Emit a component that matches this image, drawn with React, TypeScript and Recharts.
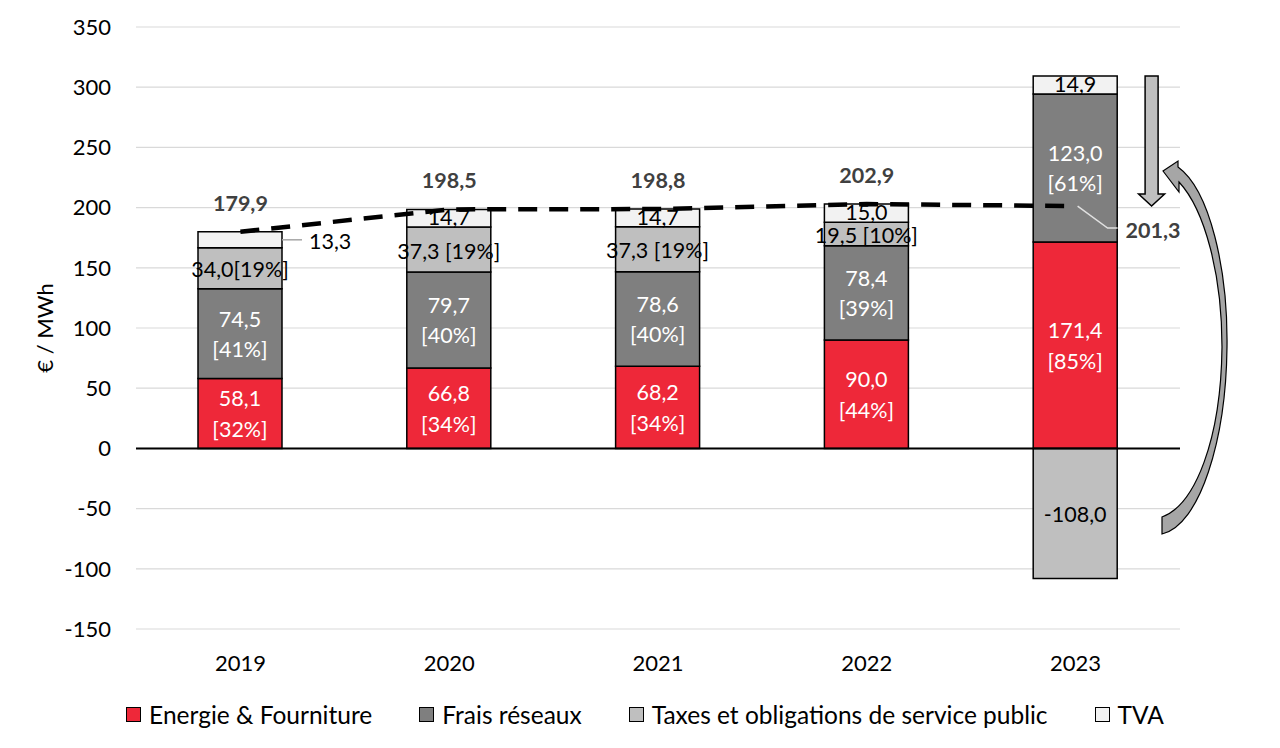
import React from 'react';
import {
  ComposedChart,
  Bar,
  Line,
  XAxis,
  YAxis,
  CartesianGrid,
  ReferenceLine,
  ReferenceDot,
  LabelList,
  Legend,
} from 'recharts';

const years = ['2019', '2020', '2021', '2022', '2023'];
const energy = [58.1, 66.8, 68.2, 90.0, 171.4];
const network = [74.5, 79.7, 78.6, 78.4, 123.0];
const taxes = [34.0, 37.3, 37.3, 19.5, -108.0];
const vat = [13.3, 14.7, 14.7, 15.0, 14.9];
const totals = [179.9, 198.5, 198.8, 202.9, 201.3];
const energyPct = [32, 34, 34, 44, 85];
const networkPct = [41, 40, 40, 39, 61];
const taxPct = [19, 19, 19, 10, null];
const taxSep = ['', ' ', ' ', ' ', ''];
const yTicks = [-150, -100, -50, 0, 50, 100, 150, 200, 250, 300, 350];
const seriesNames = ['Energie & Fourniture', 'Frais réseaux', 'Taxes et obligations de service public', 'TVA'];
const seriesColors = ['#EE2839', '#7F7F7F', '#BFBFBF', '#F2F2F2'];
const yAxisTitle = '€ / MWh';

const data = years.map((year, i) => ({
  year,
  energy: energy[i],
  network: network[i],
  taxes: taxes[i],
  vat: vat[i],
  total: totals[i],
}));

const FONT = 'Lato, "Open Sans", sans-serif';
const FS = 21.5;
const TICK_FS = 22;
const LEGEND_FS = 24.5;
const fmt = (v: number) => v.toFixed(1).replace('.', ',');

const box = (p: any) => {
  const vb = p.viewBox || p;
  const x = Number(vb.x ?? p.x);
  const y = Number(vb.y ?? p.y);
  const w = Number(vb.width ?? p.width);
  const h = Number(vb.height ?? p.height);
  return { x, y, w, h, cx: x + w / 2, cy: y + h / 2 };
};

const TwoLineLabel = (values: number[], pcts: number[]) => (p: any) => {
  const i = p.index;
  if (i == null || values[i] == null) return null;
  const { cx, cy } = box(p);
  return (
    <g>
      <text x={cx} y={cy - 15} textAnchor="middle" dominantBaseline="central" fill="#fff" fontSize={FS}>
        {fmt(values[i])}
      </text>
      <text x={cx} y={cy + 15.5} textAnchor="middle" dominantBaseline="central" fill="#fff" fontSize={FS}>
        [{pcts[i]}%]
      </text>
    </g>
  );
};

const TaxLabel = (p: any) => {
  const i = p.index;
  if (i == null) return null;
  const { cx, cy } = box(p);
  const pct = taxPct[i];
  const txt = fmt(taxes[i]) + (pct != null ? `${taxSep[i]}[${pct}%]` : '');
  return (
    <text x={cx} y={cy + 1} textAnchor="middle" dominantBaseline="central" fill="#000" fontSize={FS}>
      {txt}
    </text>
  );
};

const VatLabel = (p: any) => {
  const i = p.index;
  if (i == null) return null;
  const { x, w, cx, cy } = box(p);
  if (i === 0) {
    return (
      <g>
        <line x1={x + w} y1={cy} x2={x + w + 20} y2={cy} stroke="#A6A6A6" strokeWidth={1.5} />
        <text x={x + w + 27} y={cy + 1} textAnchor="start" dominantBaseline="central" fill="#000" fontSize={FS}>
          {fmt(vat[i])}
        </text>
      </g>
    );
  }
  return (
    <text x={cx} y={cy - 1} textAnchor="middle" dominantBaseline="central" fill="#000" fontSize={FS}>
      {fmt(vat[i])}
    </text>
  );
};

const TotalLabel = (p: any) => {
  const i = p.index;
  if (i == null) return null;
  const x = Number(p.x ?? p.viewBox?.x);
  const y = Number(p.y ?? p.viewBox?.y);
  if (i === totals.length - 1) {
    return (
      <g>
        <polyline
          points={`${x + 2},${y} ${x + 32},${y + 22} ${x + 42},${y + 22}`}
          fill="none"
          stroke="#E0E0E0"
          strokeWidth={1.5}
        />
        <text x={x + 50} y={y + 24} textAnchor="start" dominantBaseline="central" fill="#404040" fontSize={FS} fontWeight="bold">
          {fmt(totals[i])}
        </text>
      </g>
    );
  }
  return (
    <text x={x} y={y - 29} textAnchor="middle" dominantBaseline="central" fill="#404040" fontSize={FS} fontWeight="bold">
      {fmt(totals[i])}
    </text>
  );
};

const DownArrow = (p: any) => {
  const x = Number(p.x1) + 76;
  const y1 = Number(p.y1);
  const y2 = Number(p.y2);
  const hb = y2 - 12;
  const d = `M${x - 6.5},${y1} L${x + 6.5},${y1} L${x + 6.5},${hb} L${x + 13},${hb} L${x},${y2} L${x - 13},${hb} L${x - 6.5},${hb} Z`;
  return <path d={d} fill="#BFBFBF" stroke="#000" strokeWidth={1.5} strokeLinejoin="miter" />;
};

const CurvedArrow = (p: any) => {
  const cx = Number(p.cx);
  const cy = Number(p.cy);
  const d =
    'M87.4,-277.4 L102.4,-287.4 L102.4,-281.4 ' +
    'C134.4,-258.4 152.4,-178.4 151.4,-101.4 ' +
    'C150.4,-8.4 124.4,76.6 86.4,85.6 ' +
    'L86.4,68.6 ' +
    'C119.4,56.6 145.4,-8.4 146.4,-101.4 ' +
    'C146.4,-173.4 129.4,-238.4 103.4,-266.4 ' +
    'L103.4,-256.4 Z';
  return (
    <g transform={`translate(${cx},${cy})`}>
      <path d={d} fill="#A6A6A6" stroke="#000" strokeWidth={1.2} strokeLinejoin="miter" />
    </g>
  );
};

const LegendContent = () => (
  <div
    style={{
      display: 'flex',
      justifyContent: 'center',
      alignItems: 'center',
      height: 40,
      gap: 47,
      fontSize: LEGEND_FS,
      fontFamily: FONT,
      color: '#000',
      whiteSpace: 'nowrap',
    }}
  >
    {seriesNames.map((n, i) => (
      <div key={n} style={{ display: 'flex', alignItems: 'center' }}>
        <span
          style={{
            display: 'inline-block',
            width: 15,
            height: 15,
            background: seriesColors[i],
            border: '1px solid #000',
            boxSizing: 'border-box',
            marginRight: 8,
          }}
        />
        <span>{n}</span>
      </div>
    ))}
  </div>
);

const YTitle = (p: any) => {
  const vb = p.viewBox || {};
  const cy = Number(vb.y) + Number(vb.height) / 2;
  return (
    <text
      transform={`translate(44, ${cy}) rotate(-90)`}
      textAnchor="middle"
      dominantBaseline="central"
      fill="#000"
      fontSize={TICK_FS}
    >
      {yAxisTitle}
    </text>
  );
};

export default function App() {
  const vatTop = energy[4] + network[4] + vat[4];
  return (
    <div style={{ position: 'absolute', left: 0, top: 0, width: 1280, height: 748, background: '#fff', fontFamily: FONT }}>
      <ComposedChart
        width={1280}
        height={748}
        data={data}
        stackOffset="sign"
        margin={{ top: 27, right: 100, left: 0, bottom: 14 }}
        style={{ fontFamily: FONT }}
      >
        <CartesianGrid vertical={false} stroke="#D9D9D9" strokeWidth={1.2} />
        <XAxis
          dataKey="year"
          axisLine={false}
          tickLine={false}
          tickSize={0}
          tickMargin={26}
          height={65}
          interval={0}
          tick={{ fontSize: TICK_FS, fill: '#000' }}
        />
        <YAxis
          domain={[-150, 350]}
          ticks={yTicks}
          type="number"
          allowDataOverflow
          axisLine={false}
          tickLine={false}
          tickSize={0}
          tickMargin={25}
          width={136}
          tick={{ fontSize: TICK_FS, fill: '#000' }}
          label={<YTitle />}
        />
        <Legend content={<LegendContent />} verticalAlign="bottom" wrapperStyle={{ left: 5, width: 1280 }} />
        <Bar dataKey="energy" stackId="a" barSize={84} fill={seriesColors[0]} stroke="#000" strokeWidth={1.5} isAnimationActive={false}>
          <LabelList dataKey="energy" content={TwoLineLabel(energy, energyPct)} />
        </Bar>
        <Bar dataKey="network" stackId="a" barSize={84} fill={seriesColors[1]} stroke="#000" strokeWidth={1.5} isAnimationActive={false}>
          <LabelList dataKey="network" content={TwoLineLabel(network, networkPct)} />
        </Bar>
        <Bar dataKey="taxes" stackId="a" barSize={84} fill={seriesColors[2]} stroke="#000" strokeWidth={1.5} isAnimationActive={false}>
          <LabelList dataKey="taxes" content={TaxLabel} />
        </Bar>
        <Bar dataKey="vat" stackId="a" barSize={84} fill={seriesColors[3]} stroke="#000" strokeWidth={1.5} isAnimationActive={false}>
          <LabelList dataKey="vat" content={VatLabel} />
        </Bar>
        <ReferenceLine y={0} stroke="#000" strokeWidth={2} />
        <Line
          dataKey="total"
          type="linear"
          stroke="#000"
          strokeWidth={4.5}
          strokeDasharray="19 12"
          dot={false}
          activeDot={false}
          legendType="none"
          isAnimationActive={false}
        >
          <LabelList dataKey="total" content={TotalLabel} />
        </Line>
        <ReferenceLine
          segment={[
            { x: '2023', y: vatTop },
            { x: '2023', y: totals[4] },
          ]}
          shape={DownArrow}
          ifOverflow="visible"
        />
        <ReferenceDot x="2023" y={0} r={0} shape={CurvedArrow} ifOverflow="visible" />
      </ComposedChart>
    </div>
  );
}
